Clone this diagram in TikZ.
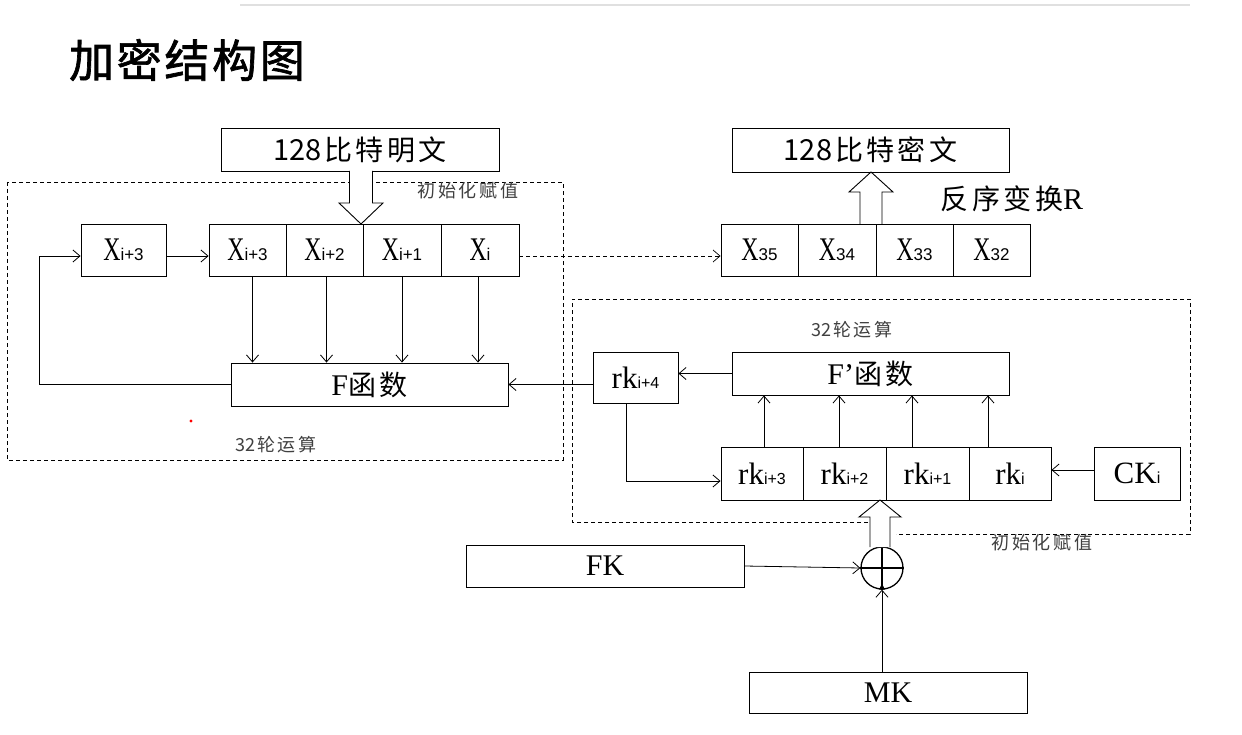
\documentclass[tikz,border=0pt]{standalone}
\usepackage{fontspec}
\usetikzlibrary{arrows.meta}
\setmainfont{Liberation Serif}
\newfontfamily\latx[FakeStretch=0.72]{Liberation Serif}
\newfontfamily\lat{Liberation Serif}
\newfontfamily\subf{Liberation Sans}
\newfontfamily\cjkn{Noto Sans CJK SC}
\newfontfamily\cjk[LetterSpace=12]{Noto Sans CJK SC}
\newfontfamily\cjks[LetterSpace=16]{Noto Sans CJK SC}
\newfontfamily\cjkt[FakeBold=1.5,LetterSpace=6]{Noto Sans CJK SC}
\newcommand\xsb[2]{{\latx\fontsize{33}{33}\selectfont #1}{\subf\fontsize{17}{17}\selectfont #2}}
\newcommand\rsb[2]{{\lat\fontsize{31}{31}\selectfont #1}{\subf\fontsize{16}{16}\selectfont #2}}
\newcommand\lbig[1]{{\lat\fontsize{30}{30}\selectfont #1}}
\newcommand\cbig[1]{{\cjk\fontsize{28}{28}\selectfont #1}}
\newcommand\nbig[1]{{\cjkn\fontsize{29}{29}\selectfont #1\kern3pt}}
\newcommand\csmall[1]{{\cjks\fontsize{18}{18}\selectfont #1}}
\newcommand\nsmall[1]{{\cjkn\fontsize{18}{18}\selectfont #1\kern2pt}}
\begin{document}
\begin{tikzpicture}[x=1pt,y=-1pt,
  >={Straight Barb[length=7pt,width=12pt]},
  line width=0.8pt,
  box/.style={draw,line width=0.9pt,inner sep=0pt},
  dbox/.style={draw,line width=0.7pt,dash pattern=on 4pt off 3pt},
  hollow/.style={draw,line width=0.9pt,fill=white},
  note/.style={inner sep=0pt,text=black!75}]
\useasboundingbox (0,0) rectangle (1242,735);
\fill[white] (0,0) rectangle (1242,735);
\draw[black!12,line width=2pt] (240,5) -- (1190,5);

% title
\node[inner sep=0pt] (title) at (187,60) {\cjkt\fontsize{45}{45}\selectfont 加密结构图};

% dashed frames
\draw[dbox] (7,182) rectangle (563,460);
\draw[dbox] (868,522) -- (572,522) -- (572,299) -- (1190,299) -- (1190,534) -- (896,534);

% left part
\node[box,minimum width=278pt,minimum height=43pt] (pt) at (360,149.5) {\nbig{128}\cbig{比特明文}};
\node[box,minimum width=85pt,minimum height=52pt] (xl) at (123.5,250) {\xsb{X}{i+3}};
\node[box,minimum width=77pt,minimum height=52pt] (L1) at (247.5,250) {\xsb{X}{i+3}};
\node[box,minimum width=77pt,minimum height=52pt] (L2) at (324.5,250) {\xsb{X}{i+2}};
\node[box,minimum width=78pt,minimum height=52pt] (L3) at (402,250) {\xsb{X}{i+1}};
\node[box,minimum width=78pt,minimum height=52pt] (L4) at (480,250) {\xsb{X}{i}};
\node[box,minimum width=277pt,minimum height=43pt] (F) at (369.5,384.5) {\lbig{F}\cbig{函数}};

\draw[hollow] (349.5,171) -- (349.5,203) -- (339,203) -- (361,224) -- (383,203) -- (372.5,203) -- (372.5,171);

\draw[->] ([yshift=-6pt]xl.east) -- ([yshift=-6pt]L1.west);
\draw[->] (F.west) -- ++(-191,0) |- ([yshift=-6pt]xl.west);
\draw[->] ([xshift=5pt]L1.south) -- ([xshift=5pt]L1.south |- F.north);
\draw[->] ([xshift=2pt]L2.south) -- ([xshift=2pt]L2.south |- F.north);
\draw[->] (L3.south) -- (L3.south |- F.north);
\draw[->] ([xshift=-2pt]L4.south) -- ([xshift=-2pt]L4.south |- F.north);

\node[note] (n1) at (468,191) {\csmall{初始化赋值}};
\node[note] (n2) at (276,445) {\nsmall{32}\csmall{轮运算}};
\fill[red] (191,421) circle (1.6);

% right upper part
\node[box,minimum width=277pt,minimum height=44pt] (ct) at (870.5,150) {\nbig{128}\cbig{比特密文}};
\node[box,minimum width=77pt,minimum height=52pt] (R1) at (759.5,250) {\xsb{X}{35}};
\node[box,minimum width=78pt,minimum height=52pt] (R2) at (837,250) {\xsb{X}{34}};
\node[box,minimum width=77pt,minimum height=52pt] (R3) at (914.5,250) {\xsb{X}{33}};
\node[box,minimum width=77pt,minimum height=52pt] (R4) at (991.5,250) {\xsb{X}{32}};
\draw[hollow] (860,224) -- (860,192) -- (849,192) -- (871,172) -- (893,192) -- (882,192) -- (882,224);
\node[inner sep=0pt] (rev) at (1012,199) {{\cjk\fontsize{28}{28}\selectfont 反序变换}{\lat\fontsize{30}{30}\selectfont R}};
\draw[->,dbox] ([yshift=-6pt]L4.east) -- ([yshift=-6pt]R1.west);

% key schedule
\node[note] (n3) at (852,330) {\nsmall{32}\csmall{轮运算}};
\node[box,minimum width=85pt,minimum height=51pt] (rk4) at (635.5,377.5) {\rsb{rk}{i+4}};
\node[box,minimum width=277pt,minimum height=43pt] (Fp) at (870.5,373.5) {\lbig{F’}\cbig{函数}};
\node[box,minimum width=82pt,minimum height=53pt] (K1) at (762,473.5) {\rsb{rk}{i+3}};
\node[box,minimum width=83pt,minimum height=53pt] (K2) at (844.5,473.5) {\rsb{rk}{i+2}};
\node[box,minimum width=83pt,minimum height=53pt] (K3) at (927.5,473.5) {\rsb{rk}{i+1}};
\node[box,minimum width=82pt,minimum height=53pt] (K4) at (1010,473.5) {\rsb{rk}{i}};
\node[box,minimum width=86pt,minimum height=53pt] (CK) at (1137,473.5) {\rsb{CK}{i}};

\draw[->] ([xshift=2pt]K1.north) -- ([xshift=2pt]K1.north |- Fp.south);
\draw[->] ([xshift=-5.5pt]K2.north) -- ([xshift=-5.5pt]K2.north |- Fp.south);
\draw[->] ([xshift=-15.5pt]K3.north) -- ([xshift=-15.5pt]K3.north |- Fp.south);
\draw[->] ([xshift=-22pt]K4.north) -- ([xshift=-22pt]K4.north |- Fp.south);
\draw[->] (Fp.west) -- (Fp.west -| rk4.east);
\draw[->] (rk4.west |- F.east) -- (F.east);
\draw[->] ([xshift=-9.5pt]rk4.south) |- ([yshift=-7.5pt]K1.west);
\draw[->] ([yshift=3.5pt]CK.west) -- ([yshift=3.5pt]K4.east);
\node[note] (n4) at (1042,543) {\csmall{初始化赋值}};

% xor and inputs
\node[draw,circle,line width=1.3pt,minimum size=42pt,inner sep=0pt] (xor) at (882,568) {};
\draw[line width=1.6pt] (xor.north) -- (xor.south) (xor.west) -- (xor.east);
\fill (xor.south) ++(-3,0) -- ++(6,0) -- ++(-3,-6) -- cycle;
\draw[hollow] (870,547) -- (870,517) -- (859,517) -- (880,500) -- (901,517) -- (890,517) -- (890,547);
\node[box,minimum width=278pt,minimum height=42pt] (FK) at (605,566) {\lbig{FK}};
\node[box,minimum width=278pt,minimum height=41pt] (MK) at (888,692.5) {\lbig{MK}};
\draw[->] (FK.east) -- (xor.west);
\draw[->] (xor.south |- MK.north) -- (xor.south);
\end{tikzpicture}
\end{document}
